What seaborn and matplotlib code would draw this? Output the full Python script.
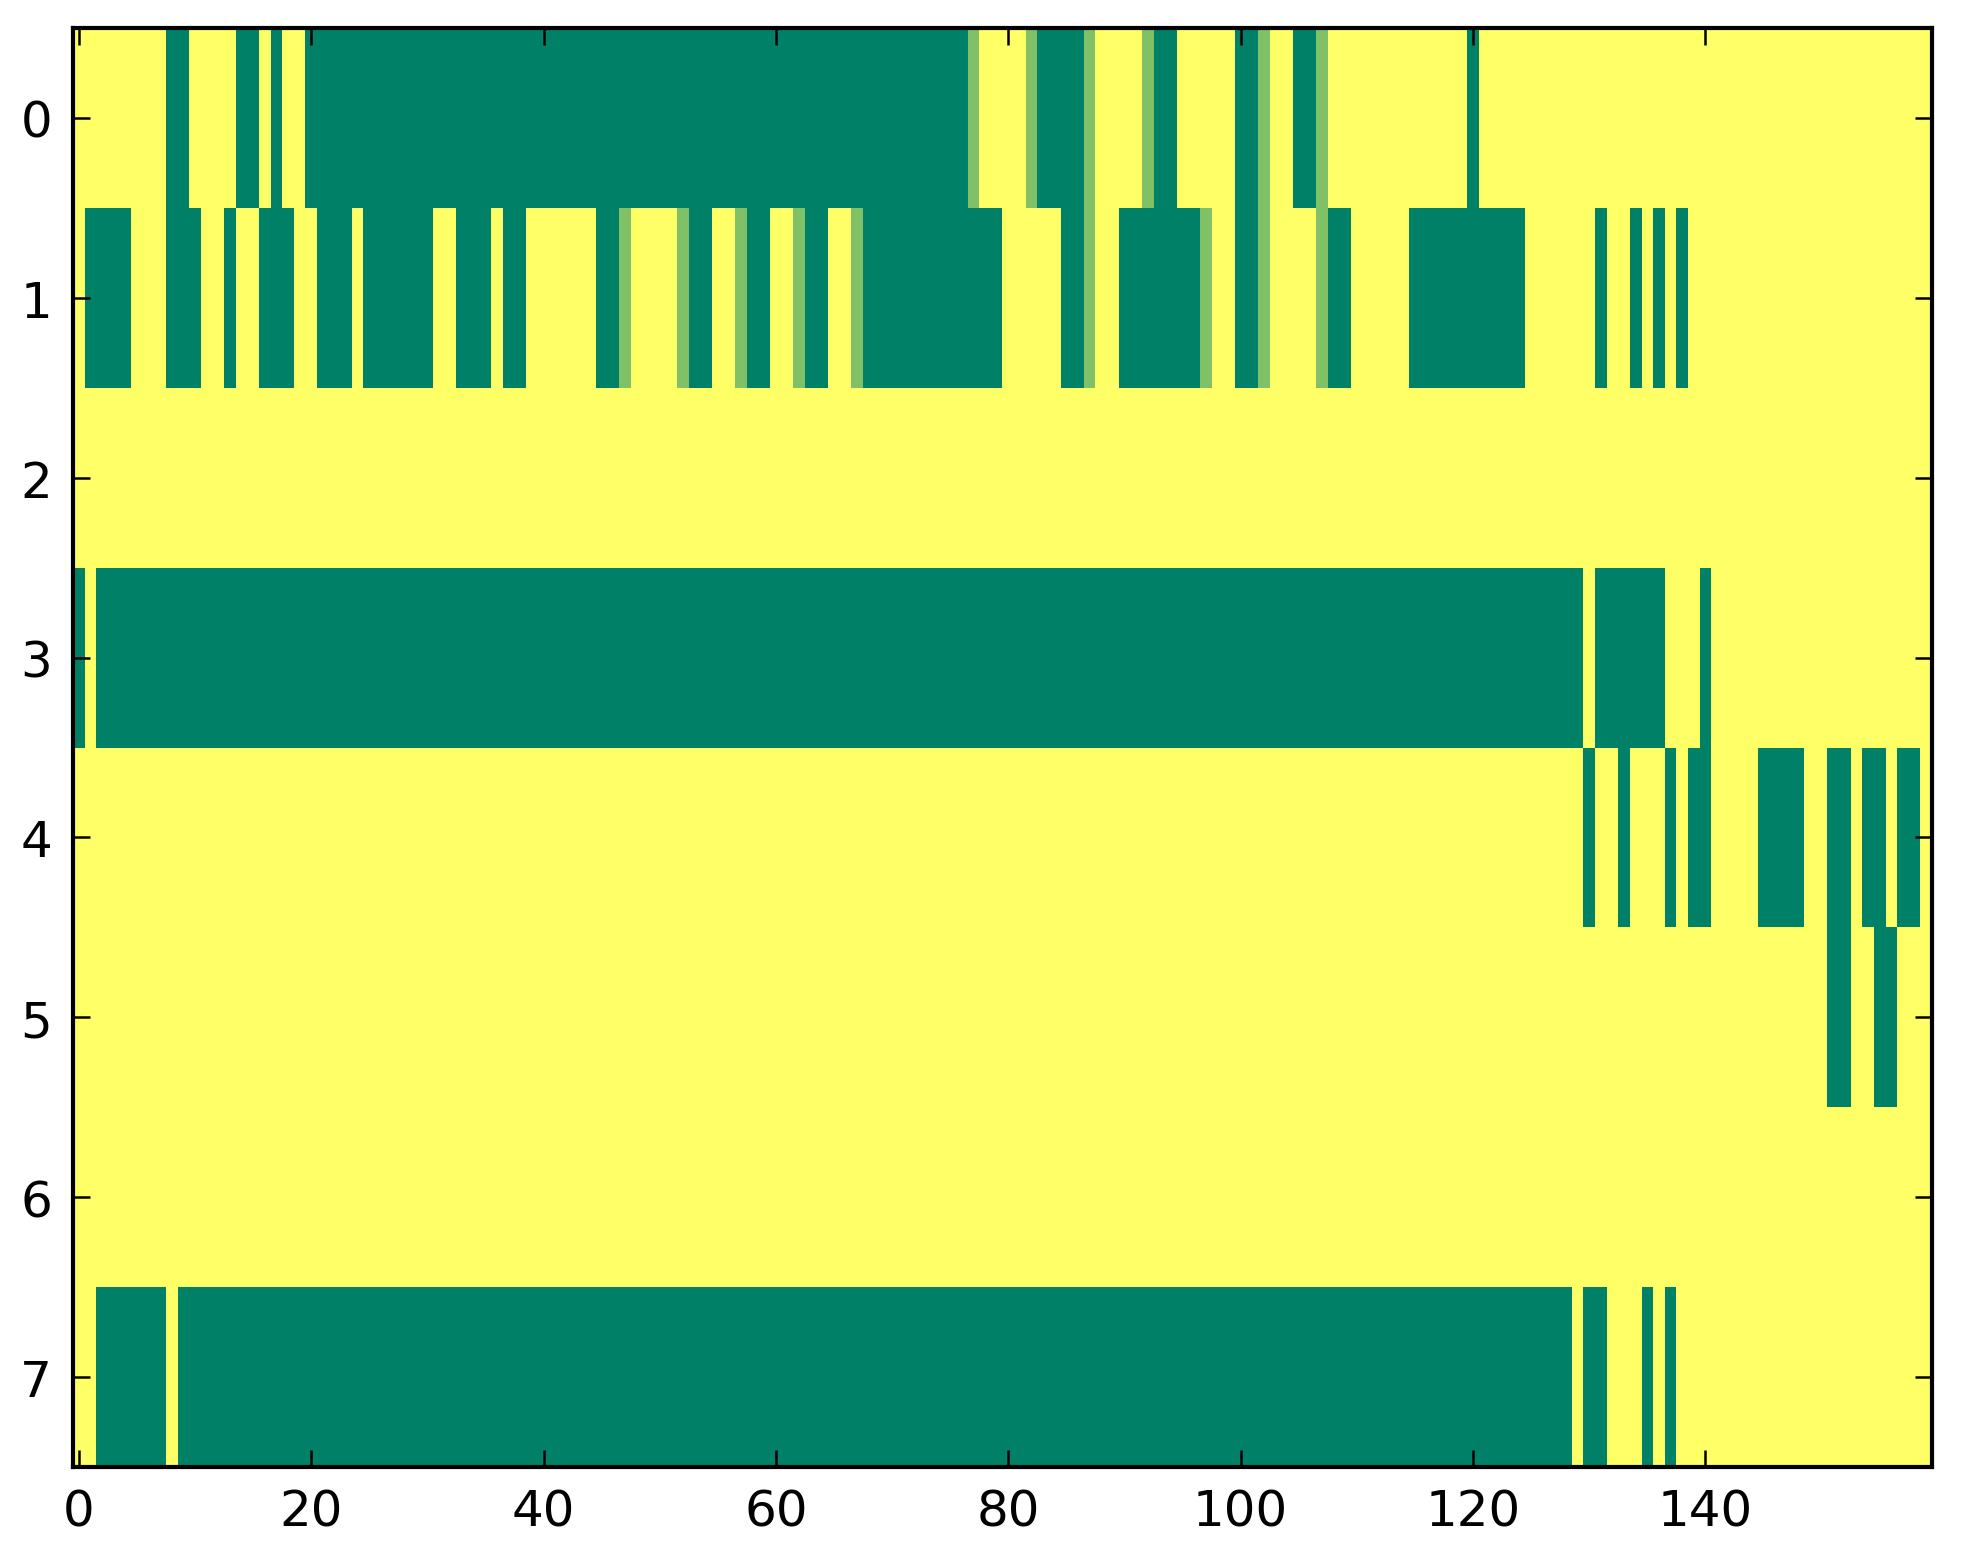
import numpy as np
import pandas as pd
import matplotlib
matplotlib.use("Agg")
import matplotlib.pyplot as plt
import seaborn as sns

# Each row given as run-length pairs (value, count); 1 = yellow, 0 = green, 0.5 = light green
row0_runs = [(1, 8), (0, 2), (1, 4), (0, 2), (1, 1), (0, 1), (1, 2), (0, 57), (0.5, 1),
             (1, 4), (0.5, 1), (0, 4), (0.5, 1), (1, 4), (0.5, 1), (0, 2), (1, 5),
             (0, 2), (0.5, 1), (1, 2), (0, 2), (0.5, 1), (1, 12), (0, 1), (1, 39)]
row1_runs = [(1, 1), (0, 4), (1, 3), (0, 3), (1, 2), (0, 1), (1, 2), (0, 3), (1, 2),
             (0, 3), (1, 1), (0, 6), (1, 2), (0, 3), (1, 1), (0, 2), (1, 6), (0, 2),
             (0.5, 1), (1, 4), (0.5, 1), (0, 2), (1, 2), (0.5, 1), (0, 2), (1, 2),
             (0.5, 1), (0, 2), (1, 2), (0.5, 1), (0, 12), (1, 5), (0, 2), (0.5, 1),
             (1, 2), (0, 7), (0.5, 1), (1, 2), (0, 2), (0.5, 1), (1, 4), (0.5, 1),
             (0, 2), (1, 5), (0, 10), (1, 6), (0, 1), (1, 2), (0, 1), (1, 1), (0, 1),
             (1, 1), (0, 1), (1, 21)]
row2_runs = [(1, 160)]
row3_runs = [(0, 1), (1, 1), (0, 128), (1, 1), (0, 6), (1, 3), (0, 1), (1, 19)]
row4_runs = [(1, 130), (0, 1), (1, 2), (0, 1), (1, 3), (0, 1), (1, 1), (0, 2), (1, 4),
             (0, 4), (1, 2), (0, 2), (1, 1), (0, 2), (1, 1), (0, 2), (1, 1)]
row5_runs = [(1, 151), (0, 2), (1, 2), (0, 2), (1, 3)]
row6_runs = [(1, 160)]
row7_runs = [(1, 2), (0, 6), (1, 1), (0, 120), (1, 1), (0, 2), (1, 3), (0, 1), (1, 1),
             (0, 1), (1, 22)]

all_runs = [row0_runs, row1_runs, row2_runs, row3_runs,
            row4_runs, row5_runs, row6_runs, row7_runs]

x_tick_values = [0, 20, 40, 60, 80, 100, 120, 140]
y_tick_values = [0, 1, 2, 3, 4, 5, 6, 7]


def decode(runs):
    vals = []
    for v, n in runs:
        vals.extend([v] * n)
    return vals


matrix = np.array([decode(r) for r in all_runs], dtype=float)
df = pd.DataFrame(matrix)

plt.rcParams["font.family"] = ["DejaVu Sans"]
plt.rcParams["font.size"] = 12

W, H = 1963, 1564
L, R, T, B = 73, 1932, 29, 1468
fig = plt.figure(figsize=(W / 300, H / 300), dpi=300)
ax = fig.add_axes([L / W, 1 - B / H, (R - L) / W, (B - T) / H])

sns.heatmap(df, cmap="summer", vmin=0, vmax=1, cbar=False, ax=ax,
            xticklabels=False, yticklabels=False)

ax.set_xticks(np.array(x_tick_values) + 0.5)
ax.set_xticklabels([str(v) for v in x_tick_values])
ax.set_yticks(np.array(y_tick_values) + 0.5)
ax.set_yticklabels([str(v) for v in y_tick_values], rotation=0)
ax.set_xlabel("")
ax.set_ylabel("")

for s in ax.spines.values():
    s.set_visible(True)
    s.set_linewidth(1.0)
    s.set_color("black")

ax.tick_params(axis="both", which="major", direction="in", top=True, right=True,
               bottom=True, left=True, length=4, width=0.6, labelsize=12, pad=5,
               color="black", labelcolor="black")

fig.savefig("out.png", dpi=300)
